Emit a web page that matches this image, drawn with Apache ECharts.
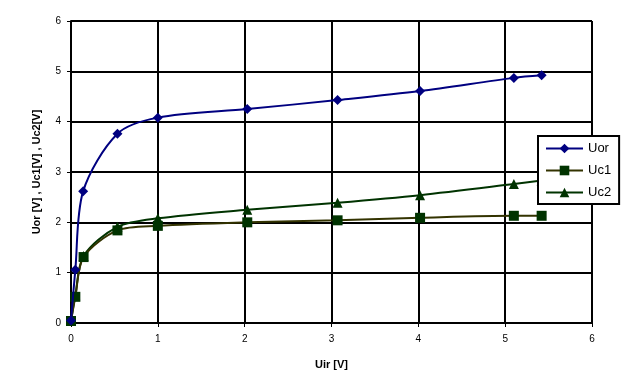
<!DOCTYPE html>
<html><head><meta charset="utf-8">
<script src="https://cdn.jsdelivr.net/npm/echarts@6/dist/echarts.min.js"></script>
<style>html,body{margin:0;padding:0;background:#fff}#c{width:630px;height:386px}</style>
</head><body><div id="c"></div>
<script>
const xUor = [0, 0.05, 0.14, 0.535, 1.0, 2.03, 3.07, 4.02, 5.10, 5.42];
const yUor = [0.05, 1.06, 2.62, 3.76, 4.08, 4.25, 4.43, 4.61, 4.87, 4.92];
const xUc1 = [0, 0.05, 0.145, 0.535, 1.0, 2.03, 3.07, 4.02, 5.10, 5.42];
const yUc1 = [0.04, 0.52, 1.31, 1.84, 1.93, 2.0, 2.04, 2.09, 2.13, 2.13];
const xUc2 = [0, 0.05, 0.145, 0.535, 1.0, 2.03, 3.07, 4.02, 5.10, 5.42];
const yUc2 = [0.04, 0.55, 1.33, 1.91, 2.08, 2.25, 2.39, 2.54, 2.76, 2.83];
const names = ['Uor', 'Uc1', 'Uc2'];
const xTitle = 'Uir [V]';
const yTitle = 'Uor [V] , Uc1[V] , Uc2[V]';

const pairs = (xs, ys) => xs.map((x, i) => [x, ys[i]]);
const chart = echarts.init(document.getElementById('c'), null, {renderer: 'canvas'});
const font = 'Liberation Sans, Arial, sans-serif';
chart.setOption({
  animation: false,
  backgroundColor: '#fff',
  grid: {left: 71, right: 38, top: 21, bottom: 63, containLabel: false},
  xAxis: {
    type: 'value', min: 0, max: 6, interval: 1,
    name: xTitle, nameLocation: 'middle', nameGap: 36,
    nameTextStyle: {fontFamily: font, fontSize: 11, fontWeight: 'bold', color: '#000'},
    axisLine: {show: true, lineStyle: {color: '#000', width: 2}},
    axisTick: {show: true, length: 4, lineStyle: {color: '#000', width: 1}},
    axisLabel: {fontFamily: font, fontSize: 10, color: '#000', margin: 11},
    splitLine: {show: true, lineStyle: {color: '#000', width: 2}}
  },
  yAxis: {
    type: 'value', min: 0, max: 6, interval: 1,
    name: yTitle, nameLocation: 'middle', nameGap: 29, nameRotate: 90,
    nameTextStyle: {fontFamily: font, fontSize: 11, fontWeight: 'bold', color: '#000'},
    axisLine: {show: true, lineStyle: {color: '#000', width: 2}},
    axisTick: {show: true, length: 4, lineStyle: {color: '#000', width: 1}},
    axisLabel: {fontFamily: font, fontSize: 10, color: '#000', margin: 10},
    splitLine: {show: true, lineStyle: {color: '#000', width: 2}}
  },
  legend: {
    orient: 'vertical', left: 538, top: 136,
    backgroundColor: '#fff', borderColor: '#000', borderWidth: 2,
    padding: [6, 8, 5, 7], itemGap: 9, itemWidth: 37, itemHeight: 12,
    textStyle: {fontFamily: font, fontSize: 13, color: '#000'},
    data: names
  },
  series: [
    {name: names[0], type: 'line', smooth: 0.3, data: pairs(xUor, yUor),
     symbol: 'diamond', symbolSize: 10, z: 3,
     lineStyle: {color: '#000080', width: 2}, itemStyle: {color: '#000080'}},
    {name: names[1], type: 'line', smooth: 0.3, data: pairs(xUc1, yUc1),
     symbol: 'rect', symbolSize: 10, z: 2,
     lineStyle: {color: '#333300', width: 2}, itemStyle: {color: '#003300'}},
    {name: names[2], type: 'line', smooth: 0.3, data: pairs(xUc2, yUc2),
     symbol: 'triangle', symbolSize: 10, z: 1,
     lineStyle: {color: '#003300', width: 2}, itemStyle: {color: '#003300'}}
  ]
});
</script></body></html>
